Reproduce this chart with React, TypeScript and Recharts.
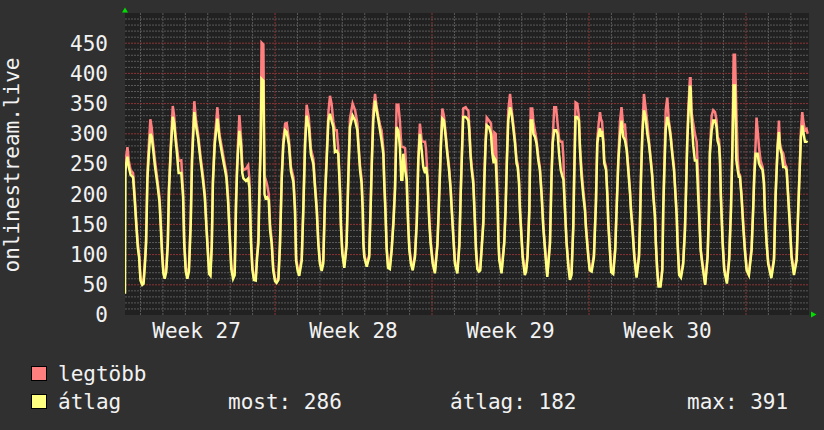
import React from 'react';
import { LineChart, Line, XAxis, YAxis, CartesianGrid } from 'recharts';

// sample positions in days since the Monday that starts week 27
const dayPos = [
    0.31, 0.33, 0.36, 0.42, 0.48, 0.56, 0.67, 0.74, 0.82, 0.88, 0.94,
    1.00, 1.08, 1.14, 1.20, 1.25, 1.31, 1.37, 1.44, 1.50, 1.56, 1.65, 1.75, 1.85, 1.90, 1.96,
    2.02, 2.08, 2.15, 2.22, 2.27, 2.35, 2.44, 2.50, 2.56, 2.62, 2.70, 2.82, 2.90, 2.95,
    3.02, 3.09, 3.16, 3.24, 3.30, 3.40, 3.48, 3.57, 3.68, 3.79, 3.87, 3.94,
    4.00, 4.06, 4.12, 4.18, 4.23, 4.31, 4.43, 4.52, 4.64, 4.72, 4.83, 4.91, 4.98,
    5.05, 5.13, 5.20, 5.26, 5.30, 5.34, 5.41, 5.48, 5.54, 5.59, 5.70, 5.80, 5.86, 5.93, 5.99,
    6.06, 6.14, 6.20, 6.26, 6.30, 6.36, 6.40, 6.48, 6.53, 6.58, 6.65, 6.72, 6.78, 6.85, 6.92,
    7.00, 7.07, 7.15, 7.22, 7.30, 7.37, 7.45, 7.52, 7.62, 7.71, 7.82, 7.89, 7.94,
    8.01, 8.08, 8.19, 8.26, 8.34, 8.41, 8.51, 8.60, 8.71, 8.78, 8.86, 8.93,
    9.00, 9.08, 9.15, 9.23, 9.30, 9.38, 9.45, 9.52, 9.60, 9.67, 9.75, 9.82, 9.90, 9.94,
    10.00, 10.09, 10.19, 10.27, 10.34, 10.46, 10.57, 10.67, 10.71, 10.79, 10.86, 10.91, 10.94, 10.98,
    11.09, 11.20, 11.26, 11.32, 11.38, 11.46, 11.53, 11.61, 11.68, 11.75, 11.83, 11.87, 11.92, 11.98,
    12.04, 12.12, 12.20, 12.28, 12.35, 12.42, 12.50, 12.57, 12.63, 12.68, 12.72, 12.80, 12.87, 12.90, 12.94, 12.99,
    13.06, 13.14, 13.24, 13.32, 13.39, 13.46, 13.54, 13.61, 13.69, 13.73, 13.79, 13.83, 13.88, 13.94,
    14.03, 14.13, 14.24, 14.30, 14.36, 14.40, 14.46, 14.53, 14.61, 14.68, 14.76, 14.83, 14.88, 14.95,
    15.02, 15.13, 15.22, 15.28, 15.35, 15.39, 15.50, 15.57, 15.62, 15.66, 15.72, 15.77, 15.84, 15.89, 15.92, 15.96,
    16.02, 16.09, 16.15, 16.21, 16.29, 16.33, 16.39, 16.44, 16.54, 16.63, 16.69, 16.75, 16.78, 16.84, 16.88, 16.93, 16.96,
    17.00, 17.10, 17.22, 17.28, 17.34, 17.40, 17.48, 17.55, 17.62, 17.70, 17.77, 17.82, 17.88, 17.92, 17.97,
    18.04, 18.14, 18.20, 18.26, 18.34, 18.40, 18.47, 18.52, 18.59, 18.66, 18.74, 18.81, 18.89, 18.96,
    19.04, 19.14, 19.26, 19.33, 19.38, 19.45, 19.53, 19.60, 19.67, 19.74, 19.81, 19.86, 19.90, 19.93,
    20.00, 20.08, 20.15, 20.22, 20.30, 20.34, 20.40, 20.48, 20.55, 20.60, 20.67, 20.75, 20.82, 20.86, 20.92, 20.97,
    21.03, 21.12, 21.22, 21.27, 21.31, 21.37, 21.43, 21.49, 21.53, 21.58, 21.64, 21.68, 21.76, 21.82, 21.86, 21.93, 21.99,
    22.08, 22.17, 22.23, 22.31, 22.38, 22.45, 22.53, 22.60, 22.68, 22.75, 22.83, 22.87, 22.94,
    23.02, 23.12, 23.23, 23.27, 23.32, 23.38, 23.45, 23.52, 23.60, 23.67, 23.75, 23.82, 23.87, 23.94, 23.98,
    24.04, 24.10, 24.19, 24.27, 24.31, 24.36, 24.42, 24.49, 24.56, 24.64, 24.71, 24.79, 24.86, 24.91, 24.95,
    25.02, 25.10, 25.20, 25.28, 25.32, 25.38, 25.43, 25.50, 25.53, 25.57, 25.65, 25.72, 25.80, 25.87, 25.93, 25.98,
    26.05, 26.18, 26.29, 26.35, 26.39, 26.47, 26.54, 26.62, 26.69, 26.73, 26.80, 26.84, 26.88, 26.96,
    27.03, 27.15, 27.25, 27.33, 27.39, 27.45, 27.51, 27.57, 27.63, 27.68, 27.73, 27.80, 27.88, 27.95,
    28.03, 28.13, 28.25, 28.32, 28.37, 28.43, 28.47, 28.52, 28.58, 28.65, 28.74, 28.80, 28.84, 28.92, 28.99,
    29.13, 29.25, 29.32, 29.41, 29.47, 29.51, 29.59, 29.66, 29.74, 29.81, 29.88, 29.96,
    30.03, 30.14, 30.26, 30.33, 30.40, 30.45, 30.51, 30.57, 30.63, 30.70, 30.75,
];

// "legtöbb" (max)
const legtobbValues = [
    230, 250, 262, 278, 255, 240, 235, 200, 150, 120, 100,
    62, 55, 58, 90, 125, 235, 280, 324, 310, 285, 255, 225, 195, 158, 108,
    75, 65, 78, 125, 212, 280, 346, 330, 300, 280, 255, 256, 205, 125,
    78, 66, 78, 158, 265, 354, 322, 300, 262, 230, 200, 150,
    112, 74, 70, 120, 225, 290, 344, 300, 275, 258, 235, 195, 135,
    82, 66, 72, 190, 240, 278, 331, 295, 250, 240, 242, 248, 225, 123, 80,
    63, 62, 100, 130, 205, 290, 451, 448, 230, 225, 215, 200, 150, 125, 78,
    60, 57, 62, 120, 232, 290, 317, 318, 290, 245, 228, 180, 95,
    78, 70, 95, 178, 290, 348, 325, 275, 258, 218, 180, 122,
    90, 78, 90, 200, 262, 336, 363, 350, 320, 306, 306, 275, 205, 150,
    105, 82, 120, 235, 325, 350, 339, 318, 290, 248, 225, 180, 125, 100,
    84, 100, 178, 262, 339, 366, 345, 328, 315, 306, 275, 225, 180, 112,
    82, 80, 110, 158, 212, 348, 348, 320, 280, 278, 278, 276, 228, 190, 150, 112,
    90, 78, 100, 158, 262, 317, 289, 287, 287, 275, 235, 200, 158, 122,
    90, 73, 118, 178, 246, 290, 342, 330, 300, 272, 245, 212, 178, 133,
    90, 73, 120, 205, 290, 342, 344, 340, 339, 315, 268, 246, 225, 180, 150, 112,
    80, 76, 78, 112, 158, 225, 290, 327, 322, 317, 275, 262, 302, 300, 251, 180, 128,
    95, 73, 122, 178, 262, 339, 366, 340, 318, 290, 258, 250, 224, 180, 146,
    100, 70, 78, 100, 178, 342, 342, 320, 305, 290, 262, 245, 200, 150,
    112, 67, 122, 235, 290, 344, 344, 317, 290, 287, 287, 260, 200, 175,
    122, 84, 62, 70, 150, 235, 352, 350, 328, 278, 240, 205, 180, 150, 122, 100,
    78, 76, 100, 150, 190, 290, 317, 336, 325, 320, 290, 256, 246, 200, 156, 112, 75,
    72, 112, 178, 262, 320, 344, 310, 317, 278, 246, 205, 178, 146,
    100, 66, 100, 150, 235, 305, 366, 344, 318, 290, 260, 232, 200, 168, 122,
    78, 50, 50, 78, 178, 245, 339, 360, 322, 300, 272, 245, 200, 168, 122,
    70, 65, 88, 146, 200, 290, 344, 392, 392, 336, 317, 300, 287, 225, 155, 110,
    88, 52, 100, 178, 272, 330, 339, 336, 322, 295, 290, 262, 200, 122,
    78, 56, 95, 178, 272, 431, 431, 340, 260, 235, 232, 200, 150, 112,
    78, 70, 112, 178, 235, 284, 327, 306, 278, 256, 245, 222, 178, 122, 88,
    64, 95, 200, 280, 322, 285, 272, 268, 250, 245, 200, 150,
    100, 70, 95, 178, 250, 306, 336, 317, 306, 308, 300,
];

// "átlag" (average)
const atlagValues = [
    35, 238, 250, 262, 245, 232, 228, 192, 145, 112, 95,
    57, 50, 52, 85, 118, 225, 265, 300, 295, 276, 245, 218, 186, 150, 102,
    69, 60, 72, 118, 205, 272, 328, 318, 292, 270, 235, 235, 196, 118,
    72, 60, 72, 150, 256, 336, 312, 292, 255, 222, 194, 145,
    106, 68, 65, 115, 218, 282, 325, 293, 266, 250, 228, 185, 128,
    76, 60, 66, 180, 230, 265, 305, 284, 235, 226, 222, 226, 210, 118, 75,
    58, 57, 95, 118, 198, 282, 391, 388, 200, 193, 195, 190, 140, 118, 74,
    56, 53, 58, 115, 226, 282, 306, 303, 282, 238, 220, 172, 90,
    73, 65, 90, 172, 282, 330, 311, 266, 250, 212, 172, 118,
    85, 73, 85, 194, 254, 322, 333, 322, 311, 270, 272, 267, 201, 146,
    102, 78, 115, 229, 311, 330, 322, 306, 284, 240, 218, 173, 118, 96,
    80, 96, 173, 256, 322, 355, 339, 322, 306, 289, 267, 218, 173, 107,
    78, 76, 107, 152, 207, 311, 305, 278, 224, 224, 267, 240, 224, 185, 146, 107,
    85, 74, 96, 152, 256, 300, 273, 245, 235, 245, 229, 196, 152, 118,
    85, 69, 115, 173, 240, 284, 325, 322, 295, 267, 240, 207, 173, 129,
    85, 69, 115, 201, 284, 328, 328, 325, 322, 306, 262, 240, 218, 173, 146, 107,
    76, 72, 74, 107, 152, 218, 284, 314, 311, 300, 267, 251, 260, 256, 224, 173, 123,
    91, 69, 118, 173, 256, 322, 344, 333, 311, 284, 251, 245, 218, 173, 141,
    96, 66, 73, 96, 173, 322, 322, 300, 295, 284, 256, 240, 196, 146,
    107, 63, 118, 229, 284, 306, 306, 300, 265, 240, 230, 224, 196, 173,
    118, 80, 58, 66, 146, 229, 328, 328, 322, 273, 228, 196, 173, 146, 118, 96,
    74, 72, 96, 146, 185, 284, 300, 309, 295, 305, 284, 251, 240, 196, 152, 107, 71,
    68, 107, 173, 256, 295, 322, 295, 290, 273, 240, 201, 173, 141,
    96, 62, 96, 146, 229, 300, 339, 328, 300, 284, 256, 229, 196, 163, 118,
    74, 47, 47, 74, 173, 240, 306, 328, 316, 295, 267, 240, 196, 163, 118,
    66, 62, 84, 141, 196, 284, 328, 380, 375, 328, 280, 256, 256, 196, 150, 107,
    85, 50, 96, 173, 267, 306, 322, 322, 311, 289, 280, 256, 196, 118,
    74, 52, 91, 173, 267, 380, 380, 256, 240, 229, 229, 196, 146, 107,
    74, 66, 107, 173, 229, 267, 267, 267, 251, 245, 240, 218, 173, 118, 85,
    61, 91, 196, 278, 303, 278, 267, 245, 245, 240, 196, 146,
    96, 66, 91, 173, 245, 295, 314, 300, 287, 287, 286,
];

const yTicks = [0, 50, 100, 150, 200, 250, 300, 350, 400, 450];
const weekCenters = [3.5, 10.5, 17.5, 24.5];
const weekLabels = ['Week 27', 'Week 28', 'Week 29', 'Week 30'];
const weekStarts = [7, 14, 21, 28];

const PINK = '#ff7f7f';
const YELLOW = '#ffff80';
const TEXT = '#f2f2f2';
const FONT = '"DejaVu Sans Mono", monospace';

const data = dayPos.map((t, i) => ({ t, legtobb: legtobbValues[i], atlag: atlagValues[i] }));

// grid: every 10 units gray, every 50 red; every day gray, every week red
const minorY = Array.from({ length: 49 }, (_, i) => (i + 1) * 10).filter((v) => v % 50 !== 0);
const majorY = Array.from({ length: 9 }, (_, i) => (i + 1) * 50);
const dayLines = Array.from({ length: 30 }, (_, i) => i + 1).filter((d) => d % 7 !== 0);

export default function App() {
    return (
        <div style={{ position: 'relative', width: 824, height: 430, background: '#303030', fontFamily: FONT }}>
            <style>{'body{margin:0}'}</style>
            <LineChart width={824} height={430} data={data} margin={{ top: 13, right: 15, bottom: 85, left: 0 }}>
                <CartesianGrid
                    fill="#212121"
                    stroke="#5a5a5a"
                    strokeDasharray="2 1"
                    horizontalValues={minorY}
                    verticalValues={dayLines}
                />
                <CartesianGrid
                    fill="none"
                    stroke="#8c3535"
                    strokeDasharray="2 1"
                    horizontalValues={majorY}
                    verticalValues={weekStarts}
                />
                <XAxis
                    dataKey="t"
                    type="number"
                    domain={[0.31, 30.81]}
                    allowDataOverflow
                    ticks={weekCenters}
                    interval={0}
                    tickFormatter={(v) => weekLabels[weekCenters.indexOf(v)] ?? ''}
                    height={30}
                    tickSize={0}
                    tickMargin={8}
                    axisLine={false}
                    tick={{ fill: TEXT, fontSize: 21, fontFamily: FONT }}
                />
                <YAxis
                    type="number"
                    domain={[0, 500]}
                    ticks={yTicks}
                    interval={0}
                    width={125}
                    tickSize={0}
                    tickMargin={17}
                    axisLine={false}
                    tick={{ fill: TEXT, fontSize: 21, fontFamily: FONT }}
                />
                <Line
                    type="linear"
                    dataKey="legtobb"
                    stroke={PINK}
                    strokeWidth={2.5}
                    dot={false}
                    isAnimationActive={false}
                />
                <Line
                    type="linear"
                    dataKey="atlag"
                    stroke={YELLOW}
                    strokeWidth={2.5}
                    dot={false}
                    isAnimationActive={false}
                />
            </LineChart>

            {/* title, legend and rrd-style arrows */}
            <svg width={824} height={430} style={{ position: 'absolute', left: 0, top: 0, pointerEvents: 'none' }}>
                <text
                    transform="translate(18.5,165) rotate(-90)"
                    textAnchor="middle"
                    fill={TEXT}
                    fontSize={21}
                    fontFamily={FONT}
                >
                    onlinestream.live
                </text>
                <polygon points="122,12.5 128,12.5 125,7.5" fill="#00e000" />
                <polygon points="811,311.5 811,317.5 816.5,314.5" fill="#00e000" />

                <rect x={31.5} y={366.5} width={15} height={14} fill={PINK} stroke="#000" />
                <text x={58} y={381} fill={TEXT} fontSize={21} fontFamily={FONT}>legtöbb</text>

                <rect x={31.5} y={394.5} width={15} height={14} fill={YELLOW} stroke="#000" />
                <text x={58} y={409} fill={TEXT} fontSize={21} fontFamily={FONT}>átlag</text>
                <text x={228} y={409} fill={TEXT} fontSize={21} fontFamily={FONT}>most: 286</text>
                <text x={450} y={409} fill={TEXT} fontSize={21} fontFamily={FONT}>átlag: 182</text>
                <text x={687} y={409} fill={TEXT} fontSize={21} fontFamily={FONT}>max: 391</text>
            </svg>
        </div>
    );
}
